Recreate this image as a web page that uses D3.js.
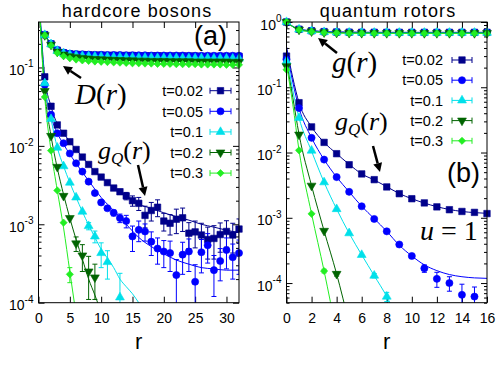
<!DOCTYPE html>
<html><head><meta charset="utf-8">
<script src="https://cdn.jsdelivr.net/npm/d3@7"></script>
<style>body{margin:0;background:#fff}svg{display:block}</style>
</head><body>
<svg id="c" width="499" height="366"></svg>
<script>
// ---------- DATA ----------
const seriesLabels = ["t=0.02","t=0.05","t=0.1","t=0.2","t=0.3"];
const seriesColors = ["#00008b","#0000ff","#00e0ea","#006400","#22ee22"];
const seriesShapes = ["square","circle","triangle","triangleDown","diamond"];

// panel (a): D(r), r = 1..32
const rD = [1,2,3,4,5,6,7,8,9,10,11,12,13,14,15,16,17,18,19,20,21,22,23,24,25,26,27,28,29,30,31,32];
const D_t002 = [0.262,0.200,0.166,0.154,0.149,0.147,0.146,0.145,0.144,0.144,0.143,0.143,0.142,0.142,0.142,0.141,0.141,0.141,0.141,0.140,0.140,0.140,0.140,0.140,0.140,0.139,0.139,0.139,0.139,0.139,0.139,0.139];
const D_t005 = [0.262,0.201,0.167,0.155,0.150,0.148,0.147,0.146,0.145,0.145,0.144,0.144,0.144,0.143,0.143,0.143,0.143,0.142,0.142,0.142,0.142,0.142,0.142,0.141,0.141,0.141,0.141,0.141,0.141,0.141,0.141,0.141];
const D_t01  = [0.260,0.198,0.163,0.151,0.145,0.142,0.140,0.139,0.138,0.137,0.136,0.135,0.135,0.134,0.134,0.133,0.133,0.133,0.132,0.132,0.132,0.132,0.131,0.131,0.131,0.131,0.131,0.130,0.130,0.130,0.130,0.130];
const D_t02  = [0.258,0.195,0.159,0.146,0.139,0.135,0.132,0.130,0.128,0.127,0.126,0.125,0.124,0.123,0.123,0.122,0.122,0.121,0.121,0.121,0.120,0.120,0.120,0.120,0.119,0.119,0.119,0.119,0.119,0.119,0.118,0.118];
const D_t03  = [0.256,0.190,0.153,0.139,0.131,0.126,0.123,0.121,0.119,0.118,0.117,0.116,0.115,0.114,0.113,0.113,0.112,0.112,0.111,0.111,0.111,0.110,0.110,0.110,0.110,0.109,0.109,0.109,0.109,0.108,0.108,0.108];

// panel (a): gQ(r) points
const rQa_t002 = [1,2,3,4,5,6,7,8,9,10,11,12,13,14,15,16,17,18,19,20,21,22,23,24,25,26,27,28,29,30,31,32];
const Qa_t002  = [0.076,0.032,0.0185,0.0145,0.0113,0.009,0.0072,0.0058,0.0047,0.0040,0.0034,0.0029,0.0026,0.0023,0.0020,0.00185,0.0013,0.0015,0.00165,0.0011,0.00103,0.00116,0.00121,0.00077,0.0008,0.00073,0.00064,0.00066,0.00074,0.00081,0.00073,0.00087];
const Ea_t002  = [0,0,0,0,0,0,0,0,0,0,0.0001,0.00012,0.0002,0.00025,0.0003,0.00035,0.0004,0.0004,0.0004,0.00028,0.0003,0.0004,0.0004,0.00028,0.0003,0.0003,0.00028,0.0003,0.0003,0.0003,0.0003,0.0003];
const rQa_t005 = [1,2,3,4,5,6,7,8,9,10,11,12,13,14,15,16,17,18,19,20,21,22,23,24,25,26,27,28,29,30,31,32];
const Qa_t005  = [0.06,0.025,0.0145,0.0108,0.008,0.006,0.0047,0.0035,0.0025,0.0019,0.0016,0.0014,0.0012,0.0011,0.0007,0.00085,0.00081,0.0006,0.00049,0.00045,0.00043,0.000225,0.00041,0.00045,0.000185,0.00044,0.00054,0.00026,0.00034,0.00047,0.00038,0.00043];
const Ea_t005  = [0,0,0,0,0,0,0,0,0,0,0.0001,0.00012,0.00015,0.0002,0.00025,0.00025,0.0002,0.0002,0.00018,0.00017,0.00018,0.00013,0.00018,0.0002,0.00012,0.0002,0.00022,0.00014,0.00015,0.0002,0.00018,0.0002];
const rQa_t01  = [1,2,3,4,5,6,7,8,9,10,11,13];
const Qa_t01   = [0.063,0.022,0.0095,0.0055,0.0034,0.0022,0.00145,0.00095,0.0007,0.00043,0.00033,0.000117];
const Ea_t01   = [0,0,0,0,0,0,0,0.0001,0.00012,0.00015,0.00013,0.00012];
const rQa_t02  = [1,2,3,4,5,6,7,8,9];
const Qa_t02   = [0.05,0.0134,0.0054,0.0023,0.0012,0.00057,0.0004,0.00025,0.00021];
const Ea_t02   = [0,0,0,0,0,0.00012,0.00015,0.00014,0.0001];
const rQa_t03  = [1,2,3,4,5];
const Qa_t03   = [0.042,0.0087,0.0027,0.00105,0.00023];
const Ea_t03   = [0,0,0,0,0.00005];

// panel (a): fitted curves for gQ(r)
const rFa_t002 = [0,1,2,3,4,5,6,7,8,9,10,11,12,13,14,15,16,18,20,22,24,26,28,30,32];
const Fa_t002  = [1.0,0.076,0.032,0.019,0.0145,0.0113,0.009,0.0072,0.0058,0.0047,0.004,0.0034,0.0029,0.0026,0.0023,0.0020,0.0018,0.0016,0.0014,0.00125,0.00113,0.001,0.00092,0.00084,0.00078];
const rFa_t005 = [0,1,2,3,4,5,6,7,8,9,10,11,12,13,14,15,16,18,20,22,24,26,28,30,32];
const Fa_t005  = [1.0,0.06,0.024,0.0145,0.0105,0.0078,0.006,0.0046,0.0036,0.0028,0.0022,0.0018,0.0015,0.00122,0.001,0.00082,0.00068,0.00052,0.00042,0.00035,0.00031,0.00028,0.00027,0.00026,0.00026];
const rFa_t01  = [0,1,2,3,4,5,6,7,8,9,10,11,12,13,14,15,16,17];
const Fa_t01   = [1.0,0.063,0.022,0.0095,0.0055,0.0034,0.0022,0.00145,0.00098,0.00068,0.00048,0.00037,0.00028,0.0002,0.00016,0.00013,0.0001,0.000078];
const rFa_t02  = [0,1,2,3,4,5,6,7,8,9,10];
const Fa_t02   = [1.0,0.05,0.0134,0.0052,0.0024,0.0012,0.00064,0.00036,0.0002,0.000125,0.000075];
const rFa_t03  = [0,1,2,3,4,5,6];
const Fa_t03   = [1.0,0.042,0.0087,0.0027,0.0009,0.00025,0.00007];

// panel (b): g(r), r = 0..16
const rG = [0,1,2,3,4,5,6,7,8,9,10,11,12,13,14,15,16];
const G_t002 = [1.0,0.775,0.735,0.712,0.702,0.698,0.696,0.695,0.694,0.694,0.694,0.694,0.694,0.694,0.694,0.694,0.694];
const G_t005 = [1.0,0.772,0.731,0.708,0.699,0.695,0.693,0.692,0.691,0.691,0.691,0.691,0.691,0.691,0.691,0.691,0.691];
const G_t01  = [1.0,0.768,0.725,0.702,0.693,0.689,0.687,0.686,0.685,0.685,0.685,0.685,0.685,0.685,0.685,0.685,0.685];
const G_t02  = [1.0,0.762,0.717,0.694,0.684,0.680,0.678,0.677,0.676,0.676,0.676,0.676,0.676,0.676,0.676,0.676,0.676];
const G_t03  = [1.0,0.757,0.710,0.686,0.676,0.672,0.670,0.669,0.668,0.668,0.668,0.668,0.668,0.668,0.668,0.668,0.668];

// panel (b): gQ(r) points
const rQb_t002 = [0,1,2,3,4,5,6,7,8,9,10,11,12,13,14,15,16];
const Qb_t002  = [0.30,0.058,0.0247,0.0143,0.0096,0.0065,0.0047,0.00384,0.00297,0.00234,0.00196,0.00169,0.00147,0.00133,0.00125,0.00121,0.00116];
const Eb_t002  = [0,0,0,0,0,0,0,0,0,0,0,0,0,0,0,0,0];
const rQb_t005 = [0,1,2,3,4,5,6,7,8,9,10,11,12,13,14,15];
const Qb_t005  = [0.266,0.048,0.0168,0.0078,0.0042,0.0025,0.0015,0.00096,0.00062,0.00039,0.00026,0.000168,0.000116,0.0001,0.000066,0.000062];
const Eb_t005  = [0,0,0,0,0,0,0,0,0,0,0,0.000022,0.00003,0.000025,0.00003,0.000025];
const rQb_t01  = [0,1,2,3,4,5,6,7,8];
const Qb_t01   = [0.25,0.034,0.0107,0.0035,0.00136,0.00058,0.00027,0.00013,0.000062];
const Eb_t01   = [0,0,0,0,0,0,0,0.00001,0.00001];
const rQb_t02  = [0,1,2,3,4];
const Qb_t02   = [0.21,0.0188,0.0031,0.00063,0.000138];
const Eb_t02   = [0,0,0,0,0.00001];
const rQb_t03  = [0,1,2,3];
const Qb_t03   = [0.186,0.0108,0.00115,0.000153];
const Eb_t03   = [0,0,0,0.00001];

// panel (b): fitted curves
const rFb_t002 = [0,0.5,1,2,3,4,5,6,7,8,9,10,11,12,13,14,15,16];
const Fb_t002  = [0.42,0.14,0.058,0.0247,0.0143,0.0096,0.0066,0.0047,0.0038,0.003,0.00235,0.00196,0.00168,0.00148,0.00134,0.00125,0.0012,0.00117];
const rFb_t005 = [0,0.5,1,2,3,4,5,6,7,8,9,10,11,12,13,14,15,16];
const Fb_t005  = [0.38,0.12,0.048,0.0168,0.0078,0.0042,0.0025,0.0015,0.00097,0.00062,0.00038,0.00026,0.00019,0.000155,0.000135,0.000125,0.00012,0.000118];
const rFb_t01  = [0,0.5,1,2,3,4,5,6,7,8,9];
const Fb_t01   = [0.33,0.09,0.034,0.0105,0.0035,0.00136,0.00058,0.00027,0.00013,0.000062,0.000025];
const rFb_t02  = [0,0.5,1,2,3,4,5];
const Fb_t02   = [0.25,0.07,0.019,0.0031,0.00063,0.000138,0.000024];
const rFb_t03  = [0,0.5,1,2,3,4];
const Fb_t03   = [0.22,0.055,0.0108,0.00115,0.000153,0.000017];

// ticks
const xTicksA = [0,5,10,15,20,25,30];
const xTicksB = [0,2,4,6,8,10,12,14,16];
const yTicksA = [1e-4,1e-3,1e-2,1e-1];
const yTicksB = [1e-4,1e-3,1e-2,1e-1,1];

// ---------- DRAW ----------
const svg = d3.select("#c");
const SANS = "'Liberation Sans', Arial, Helvetica, sans-serif";
const SERIF = "'Liberation Serif', 'Times New Roman', serif";
const zip = (rs, vs, es) => rs.map((r,i)=>({r, v:vs[i], e: es ? es[i] : 0}));

const panels = [
  { id:"a", x: d3.scaleLinear([0,32],[38.5,239]), y: d3.scaleLog([1e-4,0.38],[302.7,22]),
    xt:xTicksA, yt:yTicksA, title:"hardcore bosons",
    curves:[zip(rD,D_t002), zip(rD,D_t005), zip(rD,D_t01), zip(rD,D_t02), zip(rD,D_t03)],
    fits:[zip(rFa_t002,Fa_t002),zip(rFa_t005,Fa_t005),zip(rFa_t01,Fa_t01),zip(rFa_t02,Fa_t02),zip(rFa_t03,Fa_t03)],
    pts:[zip(rQa_t002,Qa_t002,Ea_t002),zip(rQa_t005,Qa_t005,Ea_t005),zip(rQa_t01,Qa_t01,Ea_t01),zip(rQa_t02,Qa_t02,Ea_t02),zip(rQa_t03,Qa_t03,Ea_t03)],
    legX1:210, legX2:231, legTextX:203, legY0:90.7, legDy:20.6, titleX:137 },
  { id:"b", x: d3.scaleLinear([0,16],[286.5,487]), y: d3.scaleLog([5e-5,1],[302.7,22]),
    xt:xTicksB, yt:yTicksB, title:"quantum rotors",
    curves:[zip(rG,G_t002), zip(rG,G_t005), zip(rG,G_t01), zip(rG,G_t02), zip(rG,G_t03)],
    fits:[zip(rFb_t002,Fb_t002),zip(rFb_t005,Fb_t005),zip(rFb_t01,Fb_t01),zip(rFb_t02,Fb_t02),zip(rFb_t03,Fb_t03)],
    pts:[zip(rQb_t002,Qb_t002,Eb_t002),zip(rQb_t005,Qb_t005,Eb_t005),zip(rQb_t01,Qb_t01,Eb_t01),zip(rQb_t02,Qb_t02,Eb_t02),zip(rQb_t03,Qb_t03,Eb_t03)],
    legX1:452, legX2:472, legTextX:443, legY0:60, legDy:20.2, titleX:388 }
];

function symbolPath(shape){
  switch(shape){
    case "square": return d3.symbol(d3.symbolSquare, 42)();
    case "circle": return d3.symbol(d3.symbolCircle, 40)();
    case "triangle": return d3.symbol(d3.symbolTriangle, 34)();
    case "triangleDown": return d3.symbol(d3.symbolTriangle, 34)();
    case "diamond": return d3.symbol(d3.symbolSquare, 26)();
  }
}
function symbolRot(shape){ return shape==="triangleDown"?180:(shape==="diamond"?45:0); }

const defs = svg.append("defs");

panels.forEach(p=>{
  const [x0,x1] = p.x.range(); const [yb,yt] = p.y.range();
  defs.append("clipPath").attr("id","clip-"+p.id).append("rect")
    .attr("x",x0).attr("y",yt).attr("width",x1-x0).attr("height",yb-yt);
  const g = svg.append("g");

  const [dmin,dmax] = p.y.domain();
  const minor = [];
  for(let e=Math.floor(Math.log10(dmin)); e<=Math.ceil(Math.log10(dmax)); e++)
    for(let m=2;m<=9;m++){ const v=m*Math.pow(10,e); if(v>=dmin && v<=dmax) minor.push(v); }
  const styleAxis = s => { s.select(".domain").remove(); s.selectAll("line").attr("stroke","#000"); };

  g.append("g").attr("transform",`translate(${x0},0)`)
    .call(d3.axisLeft(p.y).tickValues(minor).tickSizeInner(-3).tickSizeOuter(0).tickFormat(""))
    .call(styleAxis);
  g.append("g").attr("transform",`translate(${x1},0)`)
    .call(d3.axisRight(p.y).tickValues(minor).tickSizeInner(-3).tickSizeOuter(0).tickFormat(""))
    .call(styleAxis);
  g.append("g").attr("transform",`translate(${x1},0)`)
    .call(d3.axisRight(p.y).tickValues(p.yt).tickSizeInner(-6).tickSizeOuter(0).tickFormat(""))
    .call(styleAxis);
  const gy = g.append("g").attr("transform",`translate(${x0},0)`)
    .call(d3.axisLeft(p.y).tickValues(p.yt).tickSizeInner(-6).tickSizeOuter(0).tickPadding(5))
    .call(styleAxis);
  gy.attr("font-family",SANS).attr("font-size",14);
  gy.selectAll(".tick text").attr("fill","#000").attr("dy","0.5em").each(function(d){
    const t=d3.select(this); t.text(null);
    t.append("tspan").text("10");
    t.append("tspan").attr("font-size",10).attr("dy","-0.75em").text(String(Math.round(Math.log10(d))));
  });
  const gx = g.append("g").attr("transform",`translate(0,${yb})`)
    .call(d3.axisBottom(p.x).tickValues(p.xt).tickSizeInner(-6).tickSizeOuter(0).tickPadding(10))
    .call(styleAxis);
  gx.attr("font-family",SANS).attr("font-size",14);
  gx.selectAll(".tick text").attr("fill","#000");
  g.append("g").attr("transform",`translate(0,${yt})`)
    .call(d3.axisTop(p.x).tickValues(p.xt).tickSizeInner(-6).tickSizeOuter(0).tickFormat(""))
    .call(styleAxis);

  g.append("text").attr("x",p.titleX).attr("y",16.5).attr("text-anchor","middle")
    .attr("font-family",SANS).attr("font-size",18).attr("letter-spacing",1.1).text(p.title);
  g.append("text").attr("x",(x0+x1)/2).attr("y",349).attr("text-anchor","middle")
    .attr("font-family",SANS).attr("font-size",22).text("r");

  const plot = g.append("g").attr("clip-path",`url(#clip-${p.id})`);
  const line = d3.line().x(d=>p.x(d.r)).y(d=>p.y(d.v)).curve(d3.curveMonotoneX);

  const drawMarkers = (grp, data, i) => {
    grp.selectAll(null).data(data.filter(d=>d.v>=dmin && d.v<=dmax*1.0001)).join("path")
      .attr("d", symbolPath(seriesShapes[i]))
      .attr("transform", d=>`translate(${p.x(d.r)},${p.y(d.v)}) rotate(${symbolRot(seriesShapes[i])})`)
      .attr("fill", seriesColors[i]).attr("stroke", seriesColors[i]).attr("stroke-width",0.6);
  };
  const drawErr = (grp, data, i) => {
    data.filter(d=>d.e>0).forEach(d=>{
      const lo = Math.max(d.v-d.e, dmin*0.5), hi = d.v+d.e;
      const cx = p.x(d.r), ylo=p.y(lo), yhi=p.y(hi);
      grp.append("line").attr("x1",cx).attr("x2",cx).attr("y1",ylo).attr("y2",yhi)
        .attr("stroke",seriesColors[i]).attr("stroke-width",1);
      [ylo,yhi].forEach(yy=>grp.append("line").attr("x1",cx-2.5).attr("x2",cx+2.5).attr("y1",yy).attr("y2",yy)
        .attr("stroke",seriesColors[i]).attr("stroke-width",1));
    });
  };

  p.curves.forEach((c,i)=>{
    plot.append("path").datum(c).attr("d",line).attr("fill","none")
      .attr("stroke",seriesColors[i]).attr("stroke-width",1);
  });
  const mg1 = g.append("g");
  p.curves.forEach((c,i)=> drawMarkers(mg1, c, i));

  p.fits.forEach((c,i)=>{
    plot.append("path").datum(c).attr("d",line).attr("fill","none")
      .attr("stroke",seriesColors[i]).attr("stroke-width",1);
  });
  const eg = plot.append("g");
  p.pts.forEach((c,i)=> drawErr(eg, c, i));
  const mg2 = g.append("g");
  p.pts.forEach((c,i)=> drawMarkers(mg2, c, i));

  g.append("rect").attr("x",x0).attr("y",yt).attr("width",x1-x0).attr("height",yb-yt)
    .attr("fill","none").attr("stroke","#000").attr("stroke-width",1);

  seriesLabels.forEach((lab,i)=>{
    const yy = p.legY0 + i*p.legDy;
    g.append("text").attr("x",p.legTextX).attr("y",yy).attr("dy","0.36em").attr("text-anchor","end")
      .attr("font-family",SANS).attr("font-size",14.5).text(lab);
    const c = seriesColors[i];
    g.append("line").attr("x1",p.legX1).attr("x2",p.legX2).attr("y1",yy).attr("y2",yy).attr("stroke",c).attr("stroke-width",1);
    [p.legX1,p.legX2].forEach(xx=>g.append("line").attr("x1",xx).attr("x2",xx).attr("y1",yy-3).attr("y2",yy+3).attr("stroke",c).attr("stroke-width",1));
    g.append("path").attr("d",symbolPath(seriesShapes[i]))
      .attr("transform",`translate(${(p.legX1+p.legX2)/2},${yy}) rotate(${symbolRot(seriesShapes[i])})`)
      .attr("fill",c).attr("stroke",c).attr("stroke-width",0.6);
  });
});

function arrow(xa,ya,xb,yb){
  const ang = Math.atan2(yb-ya, xb-xa), L=9, Wd=4.5;
  const bx = xb - L*Math.cos(ang), by = yb - L*Math.sin(ang);
  svg.append("line").attr("x1",xa).attr("y1",ya).attr("x2",bx).attr("y2",by)
    .attr("stroke","#000").attr("stroke-width",2.5);
  const px = -Math.sin(ang)*Wd, py = Math.cos(ang)*Wd;
  svg.append("path").attr("d",`M${xb},${yb}L${bx+px},${by+py}L${bx-px},${by-py}Z`).attr("fill","#000");
}
function mathText(x,y,size,parts){
  const t = svg.append("text").attr("x",x).attr("y",y).attr("font-family",SERIF).attr("font-size",size);
  parts.forEach(pt=>{
    const s = t.append("tspan").text(pt.t);
    if(pt.i) s.attr("font-style","italic");
    if(pt.fs) s.attr("font-size",pt.fs);
    if(pt.dy) s.attr("dy",pt.dy);
  });
  return t;
}
svg.append("text").attr("x",227).attr("y",45).attr("text-anchor","end").attr("font-family",SANS).attr("font-size",27).text("(a)");
svg.append("text").attr("x",480).attr("y",182).attr("text-anchor","end").attr("font-family",SANS).attr("font-size",27).text("(b)");

mathText(75,104,29,[{t:"D",i:1},{t:"("},{t:"r",i:1},{t:")"}]);
arrow(81,78,63,66);
mathText(98,159,26,[{t:"g",i:1},{t:"Q",i:1,fs:17,dy:5},{t:"(",dy:-5},{t:"r",i:1},{t:")"}]);
arrow(138,165,145,196);

mathText(332,72,29,[{t:"g",i:1},{t:"("},{t:"r",i:1},{t:")"}]);
arrow(337,53,318,38);
mathText(335,130,26,[{t:"g",i:1},{t:"Q",i:1,fs:17,dy:5},{t:"(",dy:-5},{t:"r",i:1},{t:")"}]);
arrow(373,146,380,172);
mathText(420,240,28,[{t:"u",i:1},{t:" = 1"}]);
</script>
</body></html>
